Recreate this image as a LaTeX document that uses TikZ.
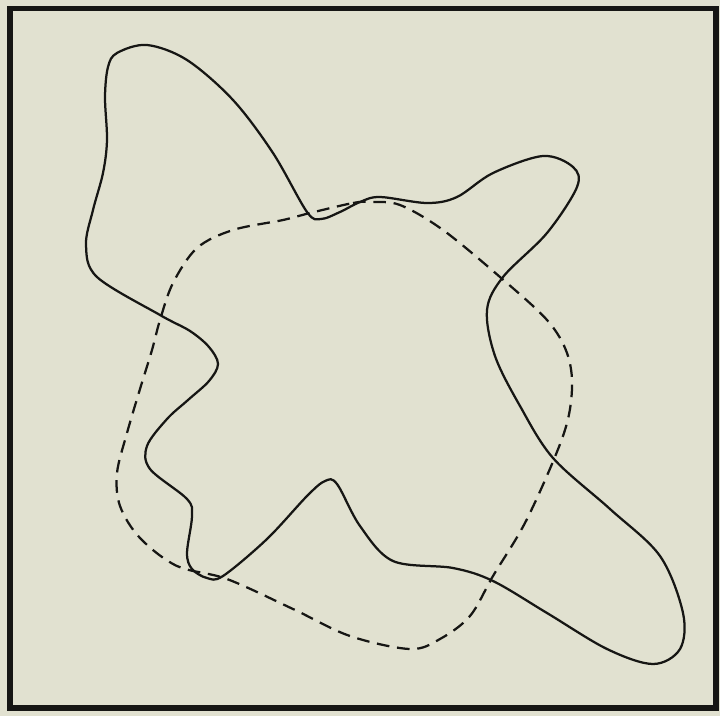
\documentclass[tikz,border=0pt]{standalone}
\usepackage{tikz}

\definecolor{paper}{RGB}{225,225,208}
\definecolor{ink}{RGB}{22,22,20}

\begin{document}
\begin{tikzpicture}[
  x=0.025cm, y=-0.025cm,
  frame/.style={draw=ink, line width=3.6pt},
  outline/.style={draw=ink, line width=1.6pt, line join=round},
  guide/.style={draw=ink, line width=1.6pt, dash pattern=on 9pt off 5.5pt}
]
\fill[paper] (0,0) rectangle (720,716);
\useasboundingbox (0,0) rectangle (720,716);
\draw[frame] (10,8.5) rectangle (716,708);

% wavy region
\draw[outline] plot[smooth cycle, tension=0.55] coordinates {
  (147,45) (187,60) (233,100) (273,153) (307,212) (321,219) (340,212)
  (360,202) (380,197) (427,203) (457,197) (493,173) (543,156) (573,167)
  (577,187) (547,233) (503,277) (487,310) (495,356) (520,406) (553,458)
  (610,509) (660,556) (683,613) (680,649) (653,664) (607,649) (547,613)
  (493,581) (453,568) (393,561) (360,526) (337,484) (325,481) (307,496)
  (267,539) (223,576) (207,578) (192,569) (187,553) (192,516) (187,499)
  (150,469) (147,446) (167,419) (188,400) (209,381) (218,364) (209,347)
  (190,331) (160,315) (97,277) (86,245) (93,210) (103,173) (107,140)
  (105,97) (108,67) (117,53)};

% rounded reference curve
\draw[guide] plot[smooth cycle, tension=0.55] coordinates {
  (310,213) (353,203) (370,202) (400,205) (443,230) (500,277) (547,320)
  (567,353) (572,389) (563,436) (527,519) (493,576) (470,616) (440,639)
  (410,649) (350,636) (293,609) (227,579) (177,566) (140,538) (120,506)
  (117,473) (127,433) (140,389) (152,350) (160,320) (173,283) (197,248)
  (233,230) (283,220)};
\end{tikzpicture}
\end{document}
